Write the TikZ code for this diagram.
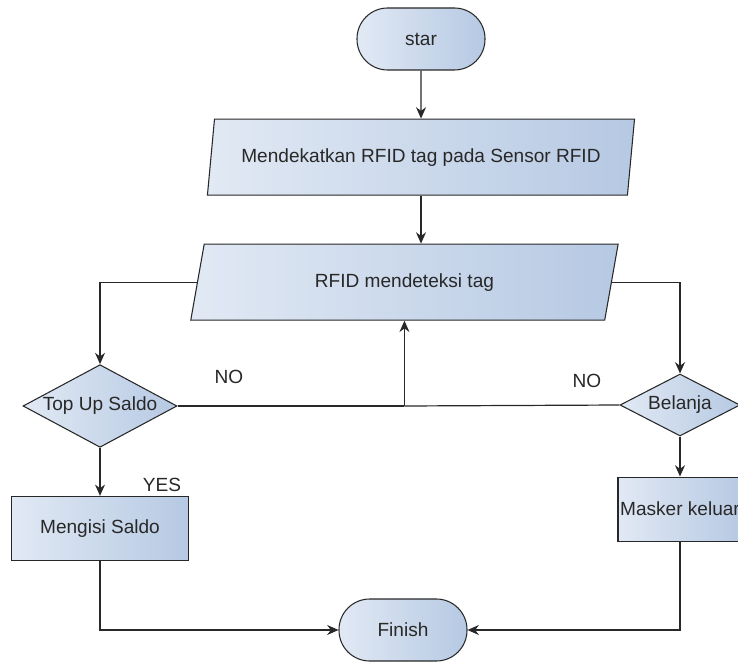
\documentclass[tikz,border=0pt]{standalone}
\usepackage{fontspec}
\setmainfont{Liberation Sans}
\usetikzlibrary{arrows.meta,positioning,shapes.geometric}
\definecolor{boxleft}{RGB}{225,233,244}
\definecolor{boxright}{RGB}{182,201,227}
\definecolor{ink}{RGB}{40,40,40}

\begin{document}
\begin{tikzpicture}[
      x=0.75pt,y=-0.75pt,
      node distance=36pt,
      font=\fontsize{14.3}{16}\selectfont,
      shade/.style={draw=ink,line width=0.8pt,left color=boxleft,
        right color=boxright,text=ink},
      terminal/.style={shade,rounded corners=23pt,
        minimum width=96pt,minimum height=46.5pt},
      io/.style={shade,trapezium,trapezium left angle=76.7,
        trapezium right angle=103.3,trapezium stretches=true,
        minimum width=321pt,minimum height=57pt},
      decision/.style={shade,diamond,inner sep=0pt,aspect=1.85},
      process/.style={shade,rectangle,inner sep=1.5pt,minimum height=48pt},
      tag/.style={text=ink},
      arr/.style={-{Stealth[length=8.5pt,width=7.5pt]},line width=0.9pt,ink}
    ]
      \useasboundingbox (0,0) rectangle (738,663);

      \node[terminal](start) at (421,39){star};
      \node[io,below=of start](mendekat){Mendekatkan RFID tag pada Sensor RFID};
      \node[io,below=of mendekat,xshift=-12.4pt](deteksi){RFID mendeteksi tag};
      \node[decision,minimum width=115.5pt,minimum height=62pt]
        (topup) at (100,406){Top Up Saldo};
      \node[decision,minimum width=90pt,minimum height=46.5pt]
        (belanja) at (680,405){Belanja};
      \node[process,below=of topup,minimum width=132.75pt](isi){Mengisi Saldo};
      \node[process,below=30pt of belanja,minimum width=93pt](masker){Masker keluar};
      \node[terminal](finish) at (403,630){Finish};

      \node[tag](no1) at (229,377){NO};
      \node[tag](no2) at (587,381){NO};
      \node[tag](yes) at (162,485){YES};

      \coordinate (merge) at (deteksi.south |- topup.east);

      \draw[arr](start)--(mendekat);
      \draw[arr](mendekat.south)--(mendekat.south |- deteksi.north);
      \draw[arr](deteksi.west)-|(topup.north);
      \draw[arr](deteksi.east)-|(belanja.north);
      \draw[line width=0.9pt,ink](topup.east)--(merge);
      \draw[line width=0.9pt,ink](belanja.west)--(merge);
      \draw[arr](merge)--(deteksi.south);
      \draw[arr](topup)--(isi);
      \draw[arr](belanja)--(masker);
      \draw[arr](isi.south)|-(finish.west);
      \draw[arr](masker.south)|-(finish.east);
    \end{tikzpicture}
\end{document}
